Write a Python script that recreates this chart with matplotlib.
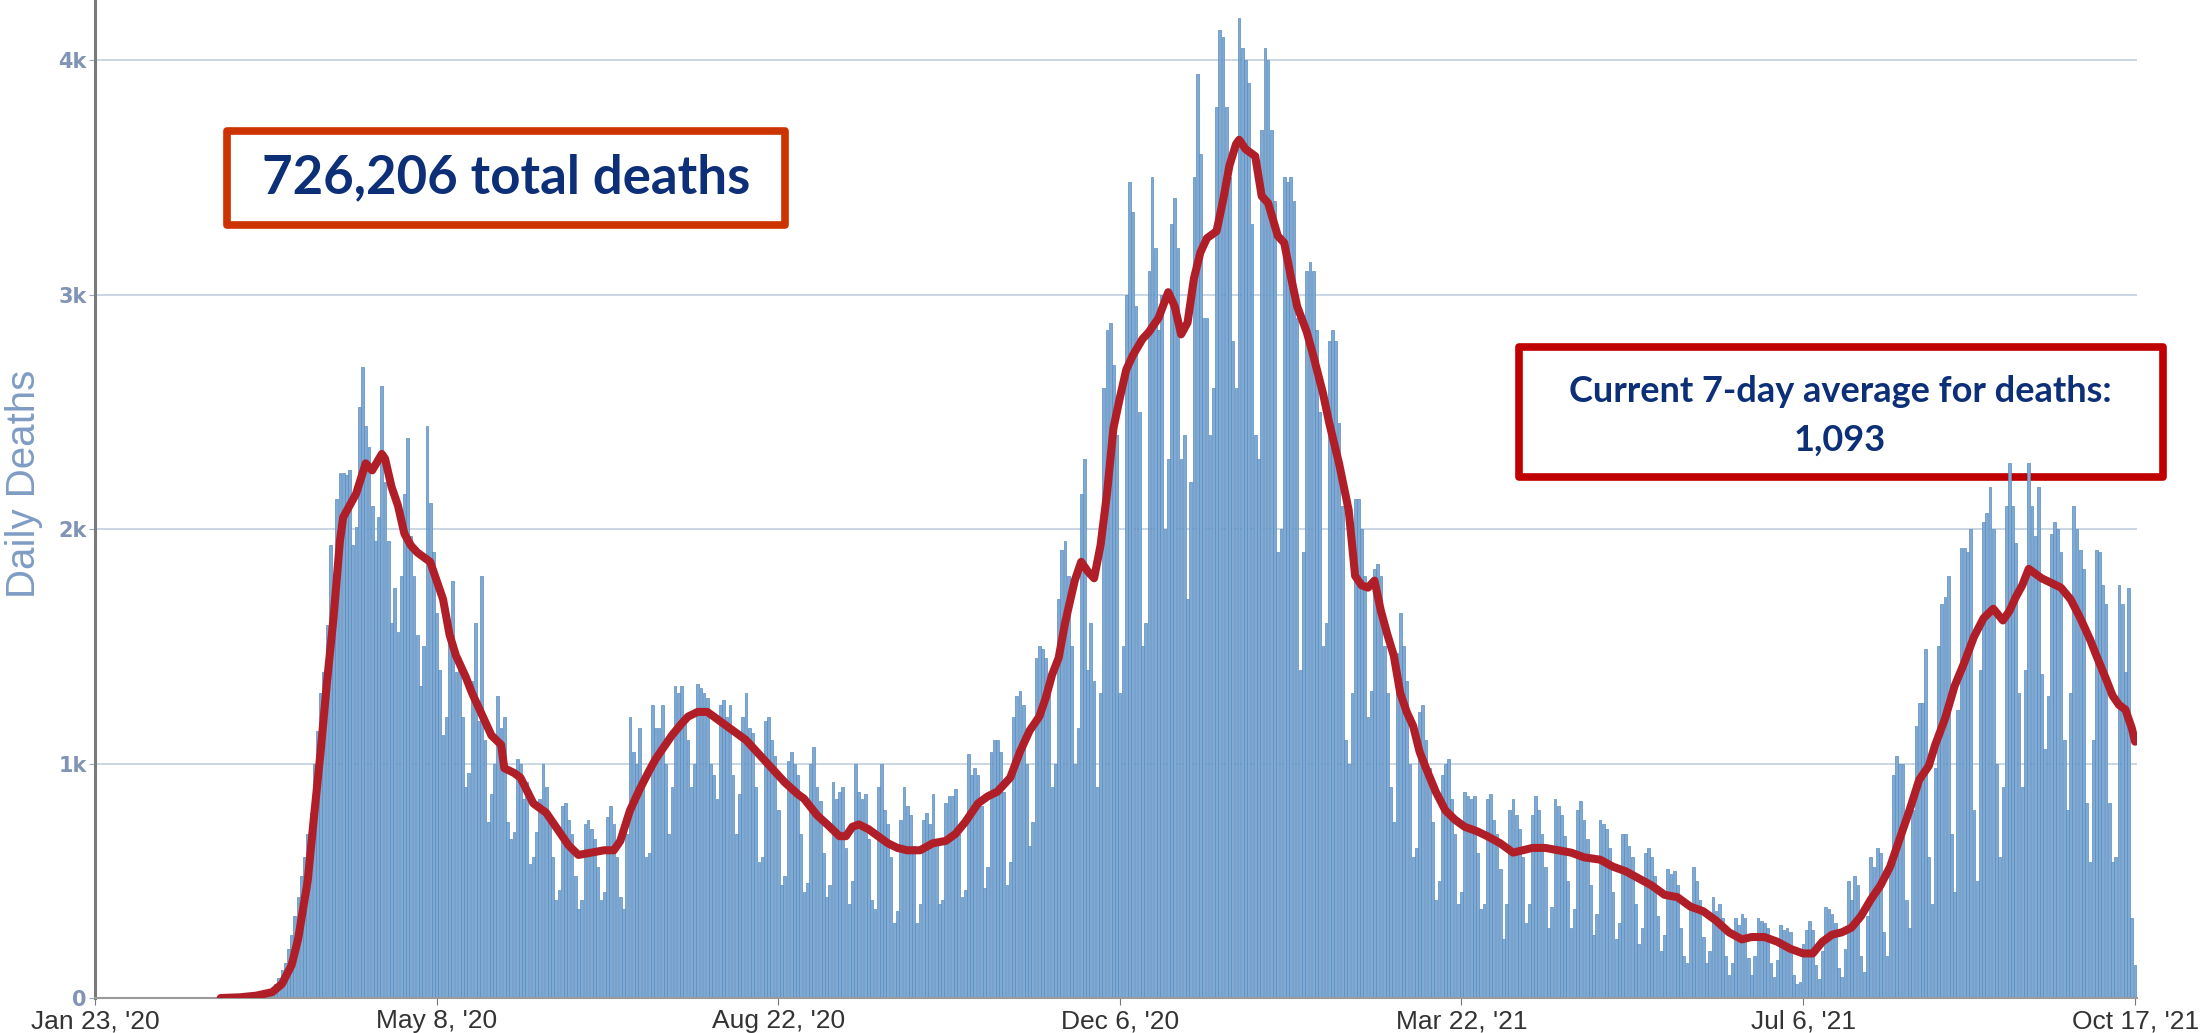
import numpy as np
import matplotlib.pyplot as plt
from matplotlib.patches import Rectangle

# daily reported deaths, one row per week starting Thu Jan 23, 2020
daily_deaths = [
    0, 0, 0, 0, 0, 0, 0,
    0, 0, 0, 0, 0, 0, 0,
    0, 0, 0, 0, 0, 0, 0,
    0, 0, 0, 0, 0, 0, 0,
    0, 0, 0, 0, 0, 0, 0,
    0, 0, 1, 0, 1, 3, 2,
    2, 1, 3, 4, 5, 8, 9,
    10, 12, 14, 16, 22, 27, 35,
    60, 85, 120, 150, 210, 270, 350,
    430, 520, 600, 700, 790, 1000, 1140,
    1300, 1390, 1590, 1930, 1730, 2130, 2240,
    2240, 2230, 2250, 1930, 2010, 2520, 2690,
    2440, 2350, 2100, 1950, 2050, 2610, 2200,
    1950, 1600, 1750, 1560, 1800, 2150, 2390,
    1970, 1800, 1550, 1330, 1500, 2440, 2110,
    1900, 1640, 1400, 1120, 1200, 1600, 1780,
    1390, 1450, 1200, 900, 960, 1350, 1600,
    1180, 1800, 1100, 750, 870, 1000, 1290,
    1150, 1200, 750, 680, 710, 1020, 1000,
    850, 920, 570, 600, 710, 850, 1000,
    900, 780, 600, 420, 460, 820, 830,
    760, 700, 520, 380, 420, 740, 760,
    720, 680, 560, 420, 450, 770, 820,
    740, 600, 430, 380, 700, 1200, 1050,
    1000, 1150, 900, 600, 620, 1250, 1150,
    1150, 1250, 1000, 700, 900, 1330, 1300,
    1330, 1200, 1100, 900, 1000, 1340, 1320,
    1300, 1280, 1000, 950, 850, 1250, 1270,
    1200, 1250, 950, 700, 870, 1200, 1300,
    1150, 1130, 900, 580, 600, 1180, 1200,
    1100, 1030, 800, 480, 520, 1010, 1050,
    1000, 950, 700, 450, 490, 1000, 1070,
    900, 840, 620, 430, 480, 920, 850,
    880, 900, 640, 400, 500, 1000, 880,
    850, 870, 680, 420, 380, 900, 1000,
    800, 740, 600, 320, 370, 760, 900,
    820, 780, 650, 320, 400, 760, 790,
    740, 870, 680, 400, 420, 830, 860,
    860, 890, 700, 430, 460, 1040, 950,
    980, 950, 820, 470, 560, 1050, 1100,
    1100, 1050, 880, 480, 580, 1200, 1290,
    1310, 1250, 1000, 650, 750, 1450, 1500,
    1490, 1450, 1310, 900, 1000, 1700, 1910,
    1950, 1800, 1500, 1000, 1150, 2150, 2300,
    1400, 1600, 1350, 900, 1300, 2600, 2850,
    2880, 2700, 2400, 1300, 1500, 3000, 3480,
    3350, 2950, 2500, 1500, 1600, 3100, 3500,
    3200, 2850, 3000, 2000, 2300, 3300, 3410,
    3200, 2300, 2400, 1700, 2200, 3500, 3940,
    3600, 2900, 2900, 2400, 2600, 3800, 4130,
    4100, 3800, 3500, 2800, 2600, 4180, 4050,
    4000, 3900, 3300, 2400, 2300, 3700, 4050,
    4000, 3700, 3400, 1900, 2000, 3500, 3480,
    3500, 3400, 2900, 1400, 1900, 3100, 3140,
    3100, 2850, 2500, 1500, 1600, 2800, 2850,
    2800, 2450, 2100, 1100, 1000, 1300, 2130,
    2130, 2000, 1800, 1200, 1310, 1830, 1850,
    1800, 1500, 1300, 900, 750, 1470, 1640,
    1500, 1350, 1000, 600, 640, 1220, 1250,
    1100, 980, 750, 420, 500, 950, 1000,
    1020, 850, 700, 400, 450, 880, 860,
    850, 860, 620, 380, 400, 850, 870,
    760, 700, 550, 250, 400, 800, 850,
    780, 720, 600, 320, 400, 780, 860,
    800, 700, 560, 300, 390, 850, 820,
    780, 690, 500, 300, 380, 800, 840,
    760, 680, 480, 270, 360, 760, 740,
    720, 640, 450, 250, 320, 700, 700,
    650, 600, 400, 230, 300, 620, 640,
    600, 520, 350, 200, 270, 550, 530,
    540, 480, 300, 180, 150, 380, 560,
    500, 420, 260, 150, 200, 430, 370,
    400, 340, 180, 100, 150, 340, 310,
    360, 340, 170, 100, 180, 340, 330,
    320, 300, 150, 90, 160, 310, 290,
    300, 280, 100, 60, 70, 230, 290,
    330, 290, 140, 80, 200, 390, 380,
    360, 320, 130, 90, 210, 500, 420,
    520, 480, 180, 110, 350, 600, 560,
    640, 620, 280, 180, 550, 950, 1030,
    1000, 1000, 420, 300, 800, 1160, 1260,
    1260, 1490, 600, 400, 980, 1500, 1680,
    1710, 1800, 700, 450, 1230, 1920, 1920,
    1900, 2000, 800, 500, 1400, 2030, 2070,
    2180, 2000, 1000, 600, 900, 2100, 2280,
    2100, 1940, 1300, 900, 1400, 2280, 2100,
    1970, 2180, 1380, 1060, 1290, 1980, 2030,
    2000, 1900, 1100, 800, 1300, 2100, 2000,
    1910, 1830, 830, 580, 1100, 1910, 1900,
    1760, 1680, 830, 580, 600, 1760, 1680,
    1390, 1750, 340, 140,
]

# 7-day average line (day number since Jan 23, 2020)
avg_days = [39, 45, 50, 55, 58, 61, 63, 66, 68, 70, 72, 74, 76, 77, 79, 81, 84, 86, 89, 90,
            92, 94, 96, 98, 100, 102, 104, 106, 108, 110, 112, 115, 117, 119, 121, 123, 126, 127,
            130, 132, 136, 140, 143, 147, 150, 154, 158, 161, 163, 166, 169, 172, 174, 177, 179,
            182, 184, 187, 190, 193, 196, 199, 202, 206, 210, 214, 218, 220, 224, 228, 231, 233,
            235, 237, 240, 243, 246, 249, 252, 256, 260, 264, 267, 270, 274, 277, 280, 284, 287,
            290, 293, 295, 297, 299, 301, 302, 304, 306, 308, 310, 312, 314, 316, 318, 320, 322,
            325, 327, 330, 333, 335, 337, 339, 341, 343, 345, 348, 350, 352, 354, 355, 357, 360,
            362, 364, 367, 369, 371, 373, 376, 378, 381, 383, 386, 389, 391, 393, 395, 397, 399,
            401, 403, 405, 407, 409, 411, 413, 416, 419, 422, 425, 429, 432, 436, 440, 443, 446,
            450, 454, 458, 462, 467, 471, 475, 479, 483, 487, 491, 495, 499, 503, 507, 511, 514,
            518, 522, 526, 530, 533, 536, 539, 542, 545, 548, 551, 554, 557, 560, 563, 566, 569,
            571, 574, 577, 580, 583, 586, 589, 592, 594, 596, 598, 600, 602, 604, 607, 610, 613,
            616, 619, 621, 624, 626, 628, 630, 632, 633]
avg_deaths = [0, 3, 10, 25, 60, 140, 250, 500, 780, 1050, 1350, 1620, 1950, 2050, 2100, 2150, 2280, 2250, 2320, 2300,
              2180, 2100, 1980, 1930, 1900, 1880, 1860, 1780, 1700, 1550, 1460, 1370, 1300, 1240, 1180, 1120, 1080, 980,
              960, 940, 830, 790, 730, 650, 610, 620, 630, 630, 670, 800, 890, 970, 1020, 1080, 1120,
              1170, 1200, 1220, 1220, 1190, 1160, 1130, 1100, 1040, 980, 920, 870, 850, 780, 730, 690, 690,
              730, 740, 720, 690, 660, 640, 630, 630, 660, 670, 700, 750, 830, 860, 880, 940, 1050,
              1140, 1200, 1280, 1380, 1450, 1600, 1660, 1780, 1860, 1820, 1790, 1930, 2150, 2430, 2560, 2680, 2740,
              2810, 2840, 2900, 3010, 2950, 2830, 2880, 3070, 3180, 3240, 3270, 3400, 3550, 3640, 3660, 3620, 3590,
              3420, 3390, 3250, 3220, 3080, 2950, 2840, 2740, 2580, 2450, 2280, 2080, 1800, 1760, 1750, 1780, 1650,
              1550, 1460, 1300, 1220, 1160, 1050, 980, 880, 800, 760, 730, 710, 690, 660, 620, 630, 640,
              640, 630, 620, 600, 590, 560, 540, 510, 480, 440, 430, 390, 370, 330, 280, 250, 260,
              260, 240, 210, 190, 190, 240, 270, 280, 300, 350, 420, 480, 560, 680, 800, 930, 990,
              1080, 1190, 1330, 1430, 1540, 1620, 1660, 1610, 1650, 1710, 1760, 1830, 1810, 1790, 1770, 1750, 1700,
              1620, 1530, 1460, 1360, 1290, 1250, 1230, 1150, 1093]

tick_days = [0, 106, 212, 318, 424, 530, 633]
tick_labels = ["Jan 23, '20", "May 8, '20", "Aug 22, '20", "Dec 6, '20",
               "Mar 22, '21", "Jul 6, '21", "Oct 17, '21"]
y_ticks = [0, 1000, 2000, 3000, 4000]
y_labels = ["0", "1k", "2k", "3k", "4k"]
total_text = "726,206 total deaths"
avg_lines = ["Current 7-day average for deaths:", "1,093"]

navy = "#0c2f77"

W, H = 2202, 1033
fig = plt.figure(figsize=(W / 100, H / 100), dpi=100)
ax = fig.add_axes([95 / W, 35 / H, (2137 - 95) / W, 998 / H])
ax.patch.set_alpha(0)

days = np.arange(len(daily_deaths))
ax.bar(days, daily_deaths, width=0.85, color="#7eaad3", edgecolor="#5a8bbf",
       linewidth=0.5, zorder=2)
ax.plot(avg_days, avg_deaths, color="#b01f28", lw=5.8,
        solid_joinstyle="round", solid_capstyle="round", zorder=4)

ax.set_xlim(0, 633.6)
ax.set_ylim(0, 4256)
ax.set_yticks(y_ticks, y_labels)
ax.set_xticks(tick_days, tick_labels)
ax.yaxis.grid(True, color="#b9c8dc", lw=1.3, alpha=0.8, zorder=3)

for side in ["top", "right"]:
    ax.spines[side].set_visible(False)
ax.spines["left"].set_color("#7a7a7a")
ax.spines["left"].set_linewidth(2.2)
ax.spines["bottom"].set_color("#9a9a9a")
ax.spines["bottom"].set_linewidth(1.5)

ax.tick_params(axis="x", length=5, color="#777777", pad=3)
ax.tick_params(axis="y", length=4, color="#9aa8c0", pad=2)
for lab in ax.get_xticklabels():
    lab.set_family("Liberation Sans")
    lab.set_fontsize(19)
    lab.set_color("#333333")
for lab in ax.get_yticklabels():
    lab.set_fontsize(15)
    lab.set_fontweight("bold")
    lab.set_color("#8194b5")

fig.text(24 / W, 1 - 484 / H, "Daily Deaths", rotation=90, color="#7f9cc4",
         fontsize=29, family="Liberation Sans", ha="center", va="center")

# annotation boxes (drawn under the axes so tall bars can poke over the border)
fig.add_artist(Rectangle((227 / W, 1 - 225 / H), 558 / W, 94 / H, transform=fig.transFigure,
                         facecolor="white", edgecolor="#cc3300", lw=5.5, joinstyle="round", zorder=-1))
fig.text(506 / W, 1 - 178 / H, total_text, ha="center", va="center", fontsize=38,
         family=["Lato", "DejaVu Sans"], weight="bold", color=navy, zorder=6)

fig.add_artist(Rectangle((1519 / W, 1 - 477 / H), 644 / W, 130 / H, transform=fig.transFigure,
                         facecolor="white", edgecolor="#c00000", lw=5.5, joinstyle="round", zorder=-1))
fig.text(1840 / W, 1 - 392 / H, avg_lines[0], ha="center", va="center", fontsize=26,
         family=["Lato", "DejaVu Sans"], weight="bold", color=navy, zorder=6)
fig.text(1840 / W, 1 - 440 / H, avg_lines[1], ha="center", va="center", fontsize=26,
         family=["Lato", "DejaVu Sans"], weight="bold", color=navy, zorder=6)

fig.savefig("out.png", dpi=100)
